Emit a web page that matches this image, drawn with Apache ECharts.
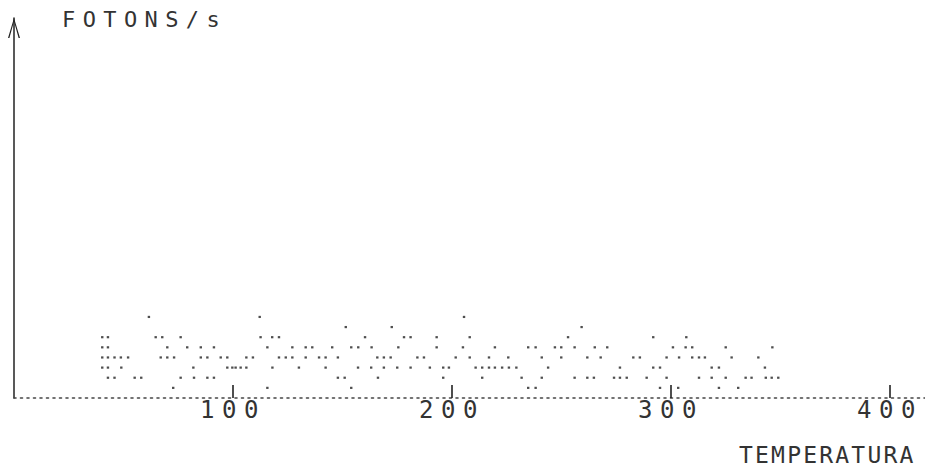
<!DOCTYPE html>
<html>
<head>
<meta charset="utf-8">
<script src="https://cdn.jsdelivr.net/npm/echarts@6/dist/echarts.min.js"></script>
<style>
html, body { margin: 0; padding: 0; background: #fff; }
#chart { width: 925px; height: 467px; }
#chart text[style*="22px"] { letter-spacing: 7.4px; }
#chart text[style*="23px"] { letter-spacing: 2.2px; }
#chart text[style*="24px"] { letter-spacing: 7.5px; }
</style>
</head>
<body>
<div id="chart"></div>
<script>
const yAxisTitle = 'FOTONS/s';
const xAxisTitle = 'TEMPERATURA';
const xTickValues = [100, 200, 300, 400];

// temperatures of the plotted dots, grouped by photon-count level
const count1 = [72.7, 115.7, 154.0, 234.8, 238.2, 295.0, 303.3, 321.9, 330.7];
const count2 = [42.9, 45.9, 55.1, 58.1, 76.1, 82.2, 88.3, 91.3, 147.9, 151.0, 166.2, 196.0, 213.8, 231.8, 241.0, 256.0, 261.8, 264.8, 274.0, 276.7, 279.8, 288.9, 298.0, 312.8, 318.6, 325.0, 334.1, 336.8, 343.3, 346.0, 349.0];
const count3 = [40.3, 42.9, 49.0, 81.9, 97.4, 99.7, 101.2, 103.5, 106.1, 118.0, 130.1, 142.3, 157.1, 163.1, 168.9, 175.0, 181.1, 189.9, 196.0, 198.6, 210.8, 213.8, 216.9, 219.6, 222.9, 226.0, 229.4, 243.9, 276.7, 291.9, 295.0, 318.6, 321.9, 342.9];
const count4 = [40.3, 42.9, 45.9, 48.8, 52.1, 67.0, 70.0, 73.1, 85.3, 88.3, 94.4, 97.4, 106.1, 109.1, 121.0, 124.1, 127.1, 133.2, 139.3, 142.3, 147.9, 165.9, 168.9, 172.0, 184.2, 187.2, 201.7, 208.1, 216.9, 225.7, 241.0, 249.9, 261.8, 267.9, 282.8, 285.8, 298.0, 303.7, 309.7, 312.8, 315.5, 327.7, 339.9];
const count5 = [40.3, 42.9, 70.0, 79.1, 85.3, 91.3, 115.7, 127.1, 133.2, 136.2, 145.3, 154.0, 157.2, 163.3, 175.5, 193.0, 205.0, 219.6, 234.8, 238.2, 247.0, 249.9, 256.0, 265.2, 270.9, 300.9, 306.7, 309.7, 325.0, 346.3];
const count6 = [40.3, 42.9, 64.7, 67.7, 76.1, 112.6, 117.9, 121.0, 160.3, 178.1, 181.1, 193.0, 208.1, 253.0, 291.9, 307.0];
const count7 = [151.5, 172.5, 259.2];
const count8 = [61.6, 112.2, 205.5];

const levels = [count1, count2, count3, count4, count5, count6, count7, count8];
const points = [];
levels.forEach(function (arr, i) {
  arr.forEach(function (t) { points.push([t, i + 1]); });
});

const chart = echarts.init(document.getElementById('chart'), null, { renderer: 'svg' });
chart.setOption({
  animation: false,
  backgroundColor: '#fff',
  title: [
    { text: yAxisTitle, left: 62, top: 8, padding: 0,
      textStyle: { fontFamily: 'DejaVu Sans Mono', fontSize: 22, fontWeight: 'normal', color: '#333' } },
    { text: xAxisTitle, left: 739, top: 443, padding: 0,
      textStyle: { fontFamily: 'DejaVu Sans Mono', fontSize: 23, fontWeight: 'normal', color: '#333' } }
  ],
  grid: { left: 14, right: 0, top: 18, bottom: 69, containLabel: false },
  xAxis: {
    type: 'value',
    min: 0,
    max: 416,
    interval: 100,
    axisLine: { show: true, onZero: false, lineStyle: { color: '#444', width: 1.6, type: [2, 4.5] } },
    axisTick: { show: true, inside: true, length: 13, customValues: xTickValues,
      lineStyle: { color: '#222', width: 1.6 } },
    axisLabel: { show: true, customValues: xTickValues, margin: 0,
      fontFamily: 'DejaVu Sans Mono', fontSize: 24, color: '#333' },
    splitLine: { show: false }
  },
  yAxis: {
    type: 'value',
    min: 0,
    max: 37.5,
    axisLine: { show: true, lineStyle: { color: '#222', width: 1.5 },
      symbol: ['none', 'path://M6,0 L0,20 L1.4,20 L6,3.5 L10.6,20 L12,20 Z'],
      symbolSize: [12, 20], symbolOffset: [0, -10] },
    axisTick: { show: false },
    axisLabel: { show: false },
    splitLine: { show: false }
  },
  series: [{
    type: 'scatter',
    data: points,
    symbol: 'rect',
    symbolSize: [2.4, 2.2],
    itemStyle: { color: '#222' },
    silent: true
  }]
});
</script>
</body>
</html>
